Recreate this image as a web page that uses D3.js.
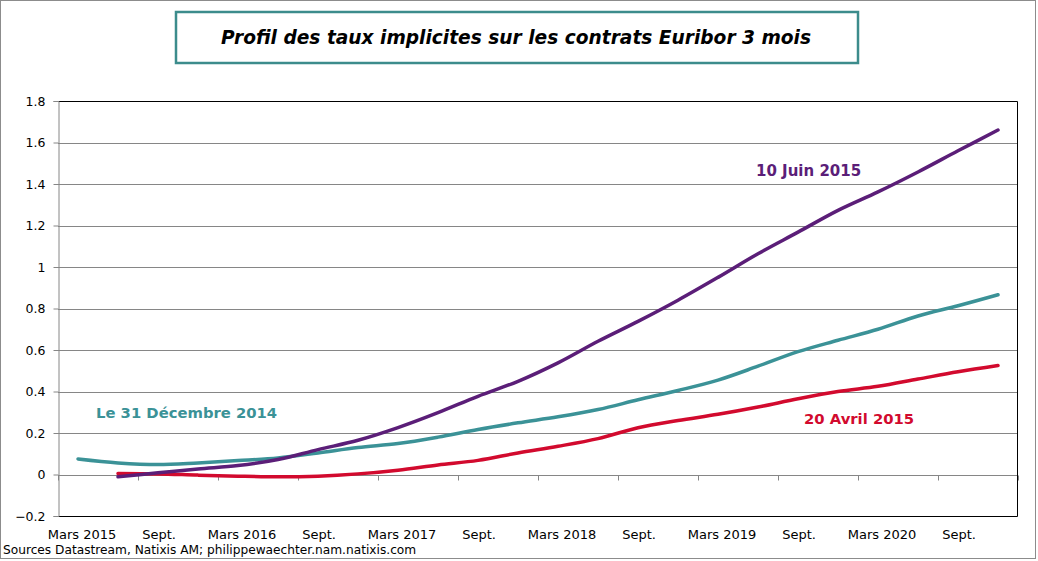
<!DOCTYPE html>
<html>
<head>
  <meta charset="utf-8">
  <script src="https://d3js.org/d3.v7.min.js"></script>
  <style>
    body { margin: 0; background: #fff; }
    text { font-family: "DejaVu Sans", Verdana, sans-serif; }
  </style>
</head>
<body>
<script>
  // quarterly contracts, Mars 2015 -> Déc. 2020
  var quarters = ["Mars 2015","Juin 2015","Sept. 2015","Déc. 2015",
                  "Mars 2016","Juin 2016","Sept. 2016","Déc. 2016",
                  "Mars 2017","Juin 2017","Sept. 2017","Déc. 2017",
                  "Mars 2018","Juin 2018","Sept. 2018","Déc. 2018",
                  "Mars 2019","Juin 2019","Sept. 2019","Déc. 2019",
                  "Mars 2020","Juin 2020","Sept. 2020","Déc. 2020"];

  var tickLabels = ["Mars 2015","Sept.","Mars 2016","Sept.","Mars 2017","Sept.",
                    "Mars 2018","Sept.","Mars 2019","Sept.","Mars 2020","Sept."];

  var yTicks = [-0.2, 0, 0.2, 0.4, 0.6, 0.8, 1, 1.2, 1.4, 1.6, 1.8];

  var dec2014 = [0.075, 0.056, 0.048, 0.056, 0.067, 0.08, 0.104, 0.13, 0.149, 0.18,
                 0.217, 0.249, 0.278, 0.313, 0.36, 0.405, 0.455, 0.522, 0.592, 0.647,
                 0.70, 0.764, 0.813, 0.866];

  var avr2015 = [null, 0.005, 0.003, -0.003, -0.008, -0.011, -0.008, 0.003, 0.021, 0.046,
                 0.068, 0.104, 0.136, 0.173, 0.225, 0.26, 0.29, 0.325, 0.365, 0.40,
                 0.425, 0.46, 0.495, 0.525];

  var juin2015 = [null, -0.011, 0.008, 0.027, 0.043, 0.072, 0.12, 0.165, 0.226, 0.298,
                  0.377, 0.449, 0.538, 0.642, 0.738, 0.84, 0.95, 1.064, 1.168, 1.273,
                  1.362, 1.458, 1.56, 1.66];

  var width = 1038, height = 561;
  var margins = { top: 101, bottom: 45, left: 58, right: 20 };

  var svg = d3.select("body").append("svg")
              .attr("width", width)
              .attr("height", height);

  // outer frame
  svg.append("rect")
     .attr("x", 0.5).attr("y", 0.5)
     .attr("width", 1035).attr("height", 558)
     .style("fill", "#fff")
     .style("stroke", "#8c8c8c");

  // title box
  svg.append("rect")
     .attr("x", 176).attr("y", 12)
     .attr("width", 682).attr("height", 51)
     .style("fill", "#fff")
     .style("stroke", "#3c8c8c")
     .style("stroke-width", 2.5);

  svg.append("text")
     .attr("x", 516).attr("y", 44)
     .attr("text-anchor", "middle")
     .style("font-size", "18.6px")
     .style("font-weight", "bold")
     .style("font-style", "italic")
     .text("Profil des taux implicites sur les contrats Euribor 3 mois");

  var xScale = d3.scaleBand()
                 .domain(d3.range(quarters.length))
                 .range([margins.left, width - margins.right]);

  var yScale = d3.scaleLinear()
                 .domain([-0.2, 1.8])
                 .range([height - margins.bottom, margins.top]);

  var x0 = margins.left, x1 = width - margins.right;

  // gridlines
  svg.selectAll(".grid")
     .data(yTicks.slice(1, -1))
     .enter()
     .append("line")
     .attr("x1", x0).attr("x2", x1)
     .attr("y1", function(d){ return Math.round(yScale(d)) + 0.5; })
     .attr("y2", function(d){ return Math.round(yScale(d)) + 0.5; })
     .style("stroke", "#868686");

  // plot border top / right / bottom
  var yTop = Math.round(yScale(1.8)) + 0.5, yBot = Math.round(yScale(-0.2)) + 0.5;
  svg.append("path")
     .attr("d", "M" + x0 + "," + yTop + "H" + (x1 - 0.5) + "V" + yBot + "H" + x0)
     .style("fill", "none")
     .style("stroke", "#000");

  // y axis
  var yAxis = svg.append("g")
                 .attr("transform", "translate(" + (x0 + 0.5) + ",0)")
                 .call(d3.axisLeft(yScale).tickValues(yTicks).tickSize(5).tickPadding(8)
                         .tickFormat(function(d){ return d3.format("")(Math.round(d * 10) / 10); }));
  yAxis.select(".domain").style("stroke", "#868686");
  yAxis.selectAll(".tick line").style("stroke", "#868686");
  yAxis.selectAll(".tick text")
       .style("font-size", "12.5px")
       .style("font-family", "DejaVu Sans, Verdana, sans-serif")
       .style("fill", "#000");

  // x ticks hanging from the zero line
  var y0 = Math.round(yScale(0)) + 0.5;
  var tickPos = d3.range(0, quarters.length + 1, 2).map(function(i){ return x0 + i * xScale.bandwidth(); });
  svg.selectAll(".xtick")
     .data(tickPos)
     .enter()
     .append("line")
     .attr("x1", function(d){ return Math.round(d) + 0.5; })
     .attr("x2", function(d){ return Math.round(d) + 0.5; })
     .attr("y1", y0).attr("y2", y0 + 5)
     .style("stroke", "#868686");

  svg.selectAll(".xlabel")
     .data(tickLabels)
     .enter()
     .append("text")
     .attr("x", function(d, i){ return xScale(i * 2) + xScale.bandwidth() / 2 + (i % 2 ? 1 : 4); })
     .attr("y", 539)
     .attr("text-anchor", "middle")
     .style("font-size", "13px")
     .text(function(d){ return d; });

  var line = d3.line()
               .defined(function(d){ return d != null; })
               .x(function(d, i){ return xScale(i) + xScale.bandwidth() / 2; })
               .y(function(d){ return yScale(d); })
               .curve(d3.curveCatmullRom.alpha(0.5));

  var series = [
    { values: dec2014, color: "#3b9297" },
    { values: avr2015, color: "#d20a2e" },
    { values: juin2015, color: "#5b1e78" }
  ];

  svg.selectAll(".serie")
     .data(series)
     .enter()
     .append("path")
     .attr("d", function(d){ return line(d.values); })
     .style("fill", "none")
     .style("stroke", function(d){ return d.color; })
     .style("stroke-width", 3.5)
     .style("stroke-linecap", "round");

  // series labels
  svg.append("text")
     .attr("x", 756).attr("y", 176)
     .style("font-size", "15px").style("font-weight", "bold")
     .style("fill", "#5b1e78")
     .text("10 Juin  2015");

  svg.append("text")
     .attr("x", 96).attr("y", 418)
     .style("font-size", "14.8px").style("font-weight", "bold")
     .style("fill", "#3b9297")
     .text("Le 31 Décembre 2014");

  svg.append("text")
     .attr("x", 804).attr("y", 424)
     .style("font-size", "14.8px").style("font-weight", "bold")
     .style("fill", "#d20a2e")
     .text("20 Avril 2015");

  svg.append("text")
     .attr("x", 3).attr("y", 554)
     .style("font-size", "12.2px")
     .text("Sources Datastream, Natixis AM; philippewaechter.nam.natixis.com");
</script>
</body>
</html>
